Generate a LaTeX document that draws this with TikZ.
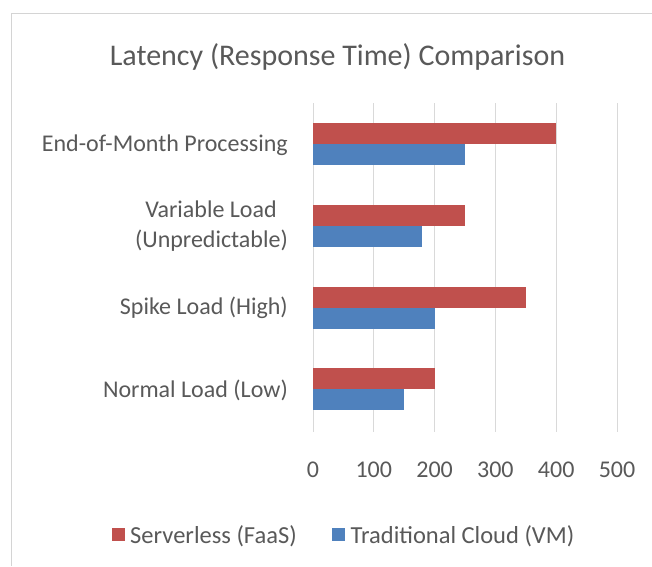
\documentclass[tikz,border=0pt]{standalone}
\usepackage{fontspec}
\setmainfont{Carlito}
\definecolor{serverless}{HTML}{C0504D}
\definecolor{traditional}{HTML}{4F81BD}
\definecolor{gridgray}{HTML}{D9D9D9}
\definecolor{framegray}{HTML}{D4D4D4}
\definecolor{textgray}{HTML}{595959}
\begin{document}
\begin{tikzpicture}[x=1pt,y=-1pt,
  gridline/.style={draw=gridgray,line width=0.8pt},
  catlabel/.style={anchor=east,text=textgray,font=\fontsize{24}{30}\selectfont,align=right,inner sep=0pt},
  ticklabel/.style={text=textgray,font=\fontsize{24}{28}\selectfont,inner sep=0pt},
  legendlabel/.style={anchor=west,text=textgray,font=\fontsize{24.5}{28}\selectfont,inner sep=0pt},
  redbar/.style={fill=serverless,draw=none},
  bluebar/.style={fill=traditional,draw=none}]
  % page extent
  \useasboundingbox (0,0) rectangle (652,566);
  \fill[white] (0,0) rectangle (652,566);
  % chart frame (open to the right and bottom)
  \draw[framegray,line width=1.6pt] (11.5,566) -- (11.5,13.5) -- (652,13.5);

  % title
  \node[text=textgray,font=\fontsize{30}{36}\selectfont,inner sep=0pt] (title) at (337.5,57) {Latency (Response Time) Comparison};

  % vertical gridlines and value axis labels: 0..500, 60.8 units per 100
  \foreach \v [count=\i] in {0,100,200,300,400,500}{
    \pgfmathsetmacro{\gx}{313+0.608*\v}
    \draw[gridline] (\gx,103) -- (\gx,432);
    \node[ticklabel] (tick\i) at (\gx,470) {\v};
  }

  % bars: category centre y, serverless value, traditional value
  \foreach \cy/\rv/\bv in {144/400/250, 226/250/180, 307.5/350/200, 389/200/150}{
    \fill[redbar] (313,\cy-21) rectangle (313+0.608*\rv,\cy);
    \fill[bluebar] (313,\cy) rectangle (313+0.608*\bv,\cy+21);
  }

  % category labels
  \node[catlabel] (cat1) at (288,145) {End-of-Month Processing};
  \node[catlabel] (cat2) at (288,226) {Variable Load\hspace*{11pt}\\(Unpredictable)};
  \node[catlabel] (cat3) at (288,307.5) {Spike Load (High)};
  \node[catlabel] (cat4) at (288,390) {Normal Load (Low)};

  % legend
  \fill[serverless] (112,528) rectangle (125,541);
  \node[legendlabel] (leg1) at (130,536) {Serverless (FaaS)};
  \fill[traditional] (332,528) rectangle (345,541);
  \node[legendlabel] (leg2) at (350.5,536) {Traditional Cloud (VM)};
\end{tikzpicture}
\end{document}
